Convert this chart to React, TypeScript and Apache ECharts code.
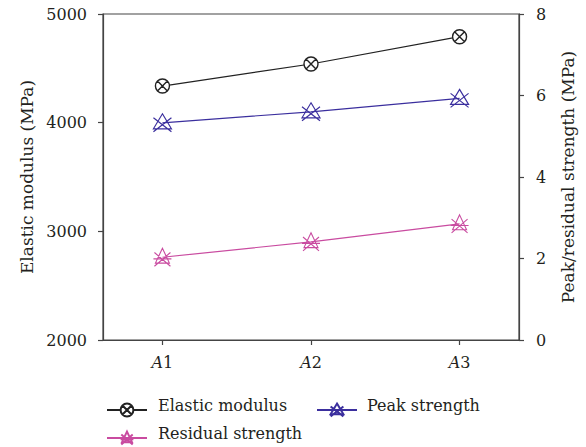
import React, { useEffect, useRef } from "react";
import * as echarts from "echarts";

const categories = ["1", "2", "3"];
const xPositions = [1, 2, 3];
const seriesNames = ["Elastic modulus", "Peak strength", "Residual strength"];
const elasticModulus = [4337, 4540, 4791];
const peakStrength = [5.33, 5.6, 5.93];
const residualStrength = [2.03, 2.41, 2.85];
const leftTicks = [2000, 3000, 4000, 5000];
const rightTicks = [0, 2, 4, 6, 8];

const FONT = "DejaVu Serif";
const TEXT = "#231f20";

const SYM_ELASTIC =
  "path://M0,-7A7,7,0,1,1,0,7A7,7,0,1,1,0,-7ZM-4.95,-4.95L4.95,4.95M4.95,-4.95L-4.95,4.95";
const SYM_PEAK = "path://M0,-8L8,7L-8,7ZM-8,-4L8,10M8,-4L-8,10";
const SYM_RESID = "path://M0,-9L7,5L-7,5ZM-8,-5L8,8M8,-5L-8,8M-9,1L9,1";

const legendSpots = [
  { left: 101, top: 397, tx: 158, ty: 405 },
  { left: 311, top: 397, tx: 367, ty: 405 },
  { left: 101, top: 425, tx: 158, ty: 433 },
];

export default function App() {
  const ref = useRef<HTMLDivElement>(null);
  useEffect(() => {
    if (!ref.current) return;
    const chart = echarts.init(ref.current, undefined, { renderer: "svg" });
    const pairs = (vals: number[]) => xPositions.map((x, i) => [x, vals[i]]);
    chart.setOption({
      animation: false,
      backgroundColor: "#fff",
      textStyle: { fontFamily: FONT },
      grid: {
        left: 103,
        right: 67,
        top: 14,
        bottom: 107,
        show: true,
        borderColor: "#444",
        borderWidth: 1.2,
      },
      legend: seriesNames.map((n, i) => ({
        left: legendSpots[i].left,
        top: legendSpots[i].top,
        itemWidth: 40,
        itemHeight: 16,
        selectedMode: false,
        formatter: () => "",
        data: [n],
      })),
      graphic: seriesNames.map((n, i) => ({
        type: "text",
        x: legendSpots[i].tx,
        y: legendSpots[i].ty,
        style: {
          text: n,
          fontFamily: FONT,
          fontSize: 16,
          fill: TEXT,
          verticalAlign: "middle",
          align: "left",
        },
      })),
      xAxis: {
        type: "value",
        min: 0.6,
        max: 3.4,
        splitLine: { show: false },
        axisLine: { show: true, lineStyle: { color: "#444", width: 1.2 } },
        axisTick: {
          show: true,
          length: 5,
          customValues: xPositions,
          lineStyle: { color: "#444", width: 1.2 },
        },
        axisLabel: {
          customValues: xPositions,
          margin: 14,
          formatter: (v: number) => `{i|A}{n|${categories[xPositions.indexOf(v)]}}`,
          rich: {
            i: { fontFamily: FONT, fontSize: 16, fontStyle: "italic", color: TEXT },
            n: { fontFamily: FONT, fontSize: 16, color: TEXT },
          },
        },
      },
      yAxis: [
        {
          type: "value",
          min: leftTicks[0],
          max: leftTicks[leftTicks.length - 1],
          interval: 1000,
          name: "Elastic modulus (MPa)",
          nameLocation: "middle",
          nameGap: 66,
          nameTextStyle: { fontFamily: FONT, fontSize: 17, color: TEXT },
          splitLine: { show: false },
          axisLine: { show: true, lineStyle: { color: "#444", width: 1.2 } },
          axisTick: { show: true, length: 5, lineStyle: { color: "#444", width: 1.2 } },
          axisLabel: {
            fontFamily: FONT,
            fontSize: 16,
            color: TEXT,
            margin: 16,
            formatter: (v: number) => String(v),
          },
        },
        {
          type: "value",
          min: rightTicks[0],
          max: rightTicks[rightTicks.length - 1],
          interval: 2,
          position: "right",
          name: "Peak/residual strength (MPa)",
          nameLocation: "middle",
          nameGap: 40,
          nameRotate: 90,
          nameTextStyle: { fontFamily: FONT, fontSize: 17, color: TEXT },
          splitLine: { show: false },
          axisLine: { show: true, lineStyle: { color: "#444", width: 1.2 } },
          axisTick: { show: true, length: 5, lineStyle: { color: "#444", width: 1.2 } },
          axisLabel: {
            fontFamily: FONT,
            fontSize: 16,
            color: TEXT,
            margin: 17,
            formatter: (v: number) => String(v),
          },
        },
      ],
      series: [
        {
          name: seriesNames[0],
          type: "line",
          yAxisIndex: 0,
          data: pairs(elasticModulus),
          symbol: SYM_ELASTIC,
          symbolSize: 14,
          lineStyle: { color: "#222", width: 1.2 },
          itemStyle: { color: "#fff", borderColor: "#222", borderWidth: 1.4 },
        },
        {
          name: seriesNames[1],
          type: "line",
          yAxisIndex: 1,
          data: pairs(peakStrength),
          symbol: SYM_PEAK,
          symbolSize: [18, 18],
          lineStyle: { color: "#3b2f9e", width: 1.2 },
          itemStyle: { color: "rgba(0,0,0,0)", borderColor: "#3b2f9e", borderWidth: 1.2 },
        },
        {
          name: seriesNames[2],
          type: "line",
          yAxisIndex: 1,
          data: pairs(residualStrength),
          symbol: SYM_RESID,
          symbolSize: [18, 18],
          lineStyle: { color: "#c94ba0", width: 1.2 },
          itemStyle: { color: "rgba(0,0,0,0)", borderColor: "#c94ba0", borderWidth: 1.1 },
        },
      ],
    });
    return () => chart.dispose();
  }, []);
  return (
    <div
      ref={ref}
      style={{ width: 586, height: 447, position: "absolute", left: 0, top: 0 }}
    />
  );
}
